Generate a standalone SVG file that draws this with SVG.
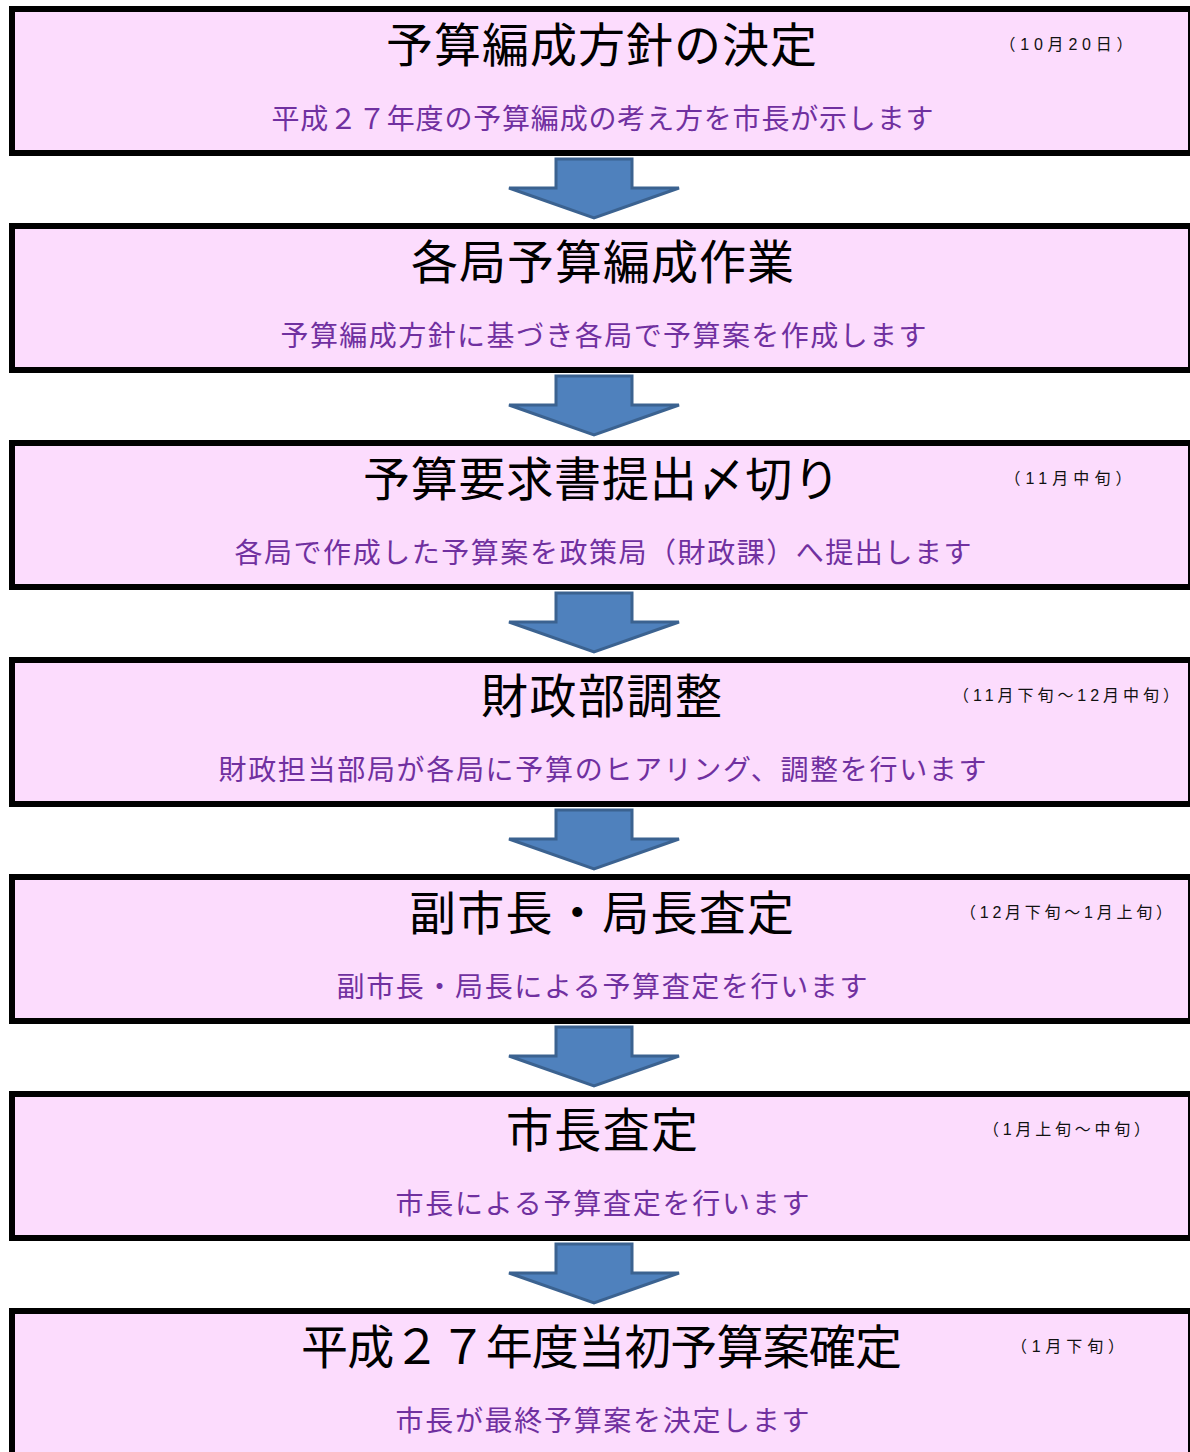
<svg xmlns="http://www.w3.org/2000/svg" xmlns:xlink="http://www.w3.org/1999/xlink" width="1190" height="1452" viewBox="0 0 1190 1452">
<style>
.box{fill:#fcdcfd;stroke:#000;stroke-width:6}
.title{font-family:"Noto Sans CJK JP","Noto Sans CJK SC",sans-serif;font-size:47px;fill:#000;text-anchor:middle}
.sub{font-family:"Noto Sans CJK JP","Noto Sans CJK SC",sans-serif;font-size:28px;fill:#7030a0;text-anchor:middle}
.date{font-family:"Liberation Sans","Noto Sans CJK JP",sans-serif;font-size:16px;fill:#111;text-anchor:middle}
.arrow{fill:#4f81bd;stroke:#3b6290;stroke-width:3;stroke-linejoin:miter}
</style>
<defs>
<path id="arr" class="arrow" d="M556,159 H632 V188 H679 L594,218 L509,188 H556 Z"/>
</defs>
<rect width="1190" height="1452" fill="#fff"/>
<g id="connectors">
<use xlink:href="#arr"/>
<use xlink:href="#arr" y="217"/>
<use xlink:href="#arr" y="434"/>
<use xlink:href="#arr" y="651"/>
<use xlink:href="#arr" y="868"/>
<use xlink:href="#arr" y="1085"/>
</g>
<g id="node1">
<rect class="box" x="12" y="9" width="1179" height="144"/>
<text class="title" x="601.5" y="62" textLength="431" lengthAdjust="spacing">予算編成方針の決定</text>
<text class="date" x="1066" y="50" textLength="133" lengthAdjust="spacing">（10月20日）</text>
<text class="sub" x="602.5" y="129" textLength="662" lengthAdjust="spacing">平成２７年度の予算編成の考え方を市長が示します</text>
</g>
<g id="node2">
<rect class="box" x="12" y="226" width="1179" height="144"/>
<text class="title" x="602.5" y="279" textLength="383" lengthAdjust="spacing">各局予算編成作業</text>
<text class="sub" x="603.5" y="346" textLength="646" lengthAdjust="spacing">予算編成方針に基づき各局で予算案を作成します</text>
</g>
<g id="node3">
<rect class="box" x="12" y="443" width="1179" height="144"/>
<text class="title" x="601.5" y="496" textLength="477" lengthAdjust="spacing">予算要求書提出〆切り</text>
<text class="date" x="1068" y="484" textLength="127" lengthAdjust="spacing">（11月中旬）</text>
<text class="sub" x="603" y="563" textLength="737" lengthAdjust="spacing">各局で作成した予算案を政策局（財政課）へ提出します</text>
</g>
<g id="node4">
<rect class="box" x="12" y="660" width="1179" height="144"/>
<text class="title" x="601.5" y="713" textLength="241" lengthAdjust="spacing">財政部調整</text>
<text class="date" x="1066" y="701" textLength="226" lengthAdjust="spacing">（11月下旬～12月中旬）</text>
<text class="sub" x="602.5" y="780" textLength="768" lengthAdjust="spacing">財政担当部局が各局に予算のヒアリング、調整を行います</text>
</g>
<g id="node5">
<rect class="box" x="12" y="877" width="1179" height="144"/>
<text class="title" x="601.5" y="930" textLength="385" lengthAdjust="spacing">副市長・局長査定</text>
<text class="date" x="1066" y="918" textLength="212" lengthAdjust="spacing">（12月下旬～1月上旬）</text>
<text class="sub" x="602" y="997" textLength="531" lengthAdjust="spacing">副市長・局長による予算査定を行います</text>
</g>
<g id="node6">
<rect class="box" x="12" y="1094" width="1179" height="144"/>
<text class="title" x="602" y="1147" textLength="192" lengthAdjust="spacing">市長査定</text>
<text class="date" x="1066.5" y="1135" textLength="167" lengthAdjust="spacing">（1月上旬～中旬）</text>
<text class="sub" x="602.5" y="1214" textLength="414" lengthAdjust="spacing">市長による予算査定を行います</text>
</g>
<g id="node7">
<rect class="box" x="12" y="1311" width="1179" height="144"/>
<text class="title" x="601.5" y="1364" textLength="601" lengthAdjust="spacing">平成２７年度当初予算案確定</text>
<text class="date" x="1067.5" y="1352" textLength="113" lengthAdjust="spacing">（1月下旬）</text>
<text class="sub" x="602.5" y="1431" textLength="414" lengthAdjust="spacing">市長が最終予算案を決定します</text>
</g>
</svg>
